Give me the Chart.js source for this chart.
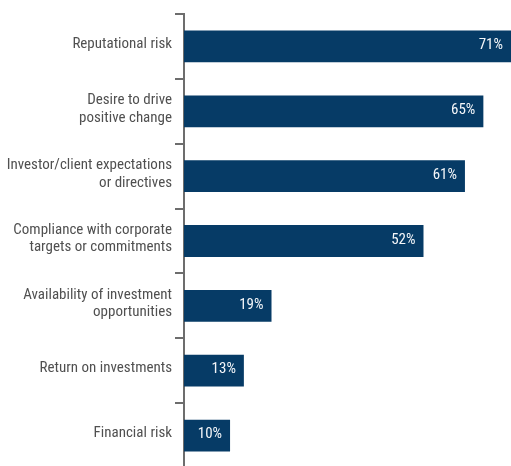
<!DOCTYPE html>
<html>
<head>
<meta charset="utf-8">
<script src="https://cdn.jsdelivr.net/npm/chart.js@4"></script>
<style>
  html, body { margin: 0; padding: 0; background: #ffffff; overflow: hidden; }
  #wrap { width: 511px; height: 480px; position: relative; }
</style>
</head>
<body>
<div id="wrap"><canvas id="c"></canvas></div>
<script>
// Drivers, share of respondents (%)
const categories = [
  ['Reputational risk'],
  ['Desire to drive', 'positive change'],
  ['Investor/client expectations', 'or directives'],
  ['Compliance with corporate', 'targets or commitments'],
  ['Availability of investment', 'opportunities'],
  ['Return on investments'],
  ['Financial risk']
];
const shares = [71, 65, 61, 52, 19, 13, 10];

const FONT = '"Liberation Sans Narrow", "Roboto Condensed", "Arial Narrow", Roboto, sans-serif';
const BAR = '#063b66';
const AXIS = '#6d6d6d';

// Writes each value in white just inside the end of its bar
const valueLabels = {
  id: 'valueLabels',
  afterDatasetsDraw(chart) {
    const ctx = chart.ctx;
    const meta = chart.getDatasetMeta(0);
    ctx.save();
    ctx.font = '15px ' + FONT;
    ctx.fillStyle = '#f4f6f9';
    ctx.textAlign = 'right';
    ctx.textBaseline = 'middle';
    meta.data.forEach((bar, i) => {
      ctx.fillText(shares[i] + '%', bar.x - 8, bar.y - 1);
    });
    ctx.restore();
  }
};

new Chart(document.getElementById('c'), {
  type: 'bar',
  data: {
    labels: categories,
    datasets: [{
      data: shares,
      backgroundColor: BAR,
      borderWidth: 0,
      barPercentage: 0.49,
      categoryPercentage: 1
    }]
  },
  options: {
    indexAxis: 'y',
    responsive: true,
    maintainAspectRatio: false,
    animation: false,
    layout: { padding: { top: 14, bottom: 12, left: 0, right: 0 } },
    plugins: { legend: { display: false }, tooltip: { enabled: false } },
    scales: {
      x: {
        display: false,
        min: 0,
        max: 71
      },
      y: {
        offset: true,
        afterFit(scale) { scale.width = 184; },
        border: { display: true, color: AXIS, width: 2 },
        grid: {
          offset: true,
          drawOnChartArea: false,
          drawTicks: true,
          tickLength: 9,
          color: AXIS,
          lineWidth: 2
        },
        ticks: {
          color: '#505050',
          padding: 3,
          labelOffset: -2,
          font: { family: FONT, size: 15, lineHeight: 1.15 }
        }
      }
    }
  },
  plugins: [valueLabels]
});
</script>
</body>
</html>
